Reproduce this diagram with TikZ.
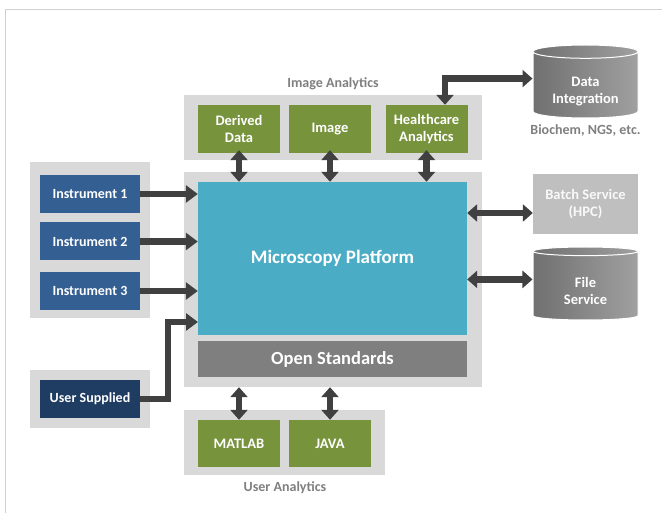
\documentclass[tikz,border=0pt]{standalone}
\usepackage{fontspec}
\setmainfont{Carlito}
\usetikzlibrary{arrows.meta,shapes.geometric}

\definecolor{panelgray}{HTML}{D9D9D9}
\definecolor{framegray}{HTML}{D0D0D0}
\definecolor{labelgray}{HTML}{7F7F7F}
\definecolor{leafgreen}{HTML}{77933C}
\definecolor{platblue}{HTML}{4BACC6}
\definecolor{instblue}{HTML}{335F93}
\definecolor{navyblue}{HTML}{1F3D63}
\definecolor{stdgray}{HTML}{7F7F7F}
\definecolor{batchgray}{HTML}{BFBFBF}
\definecolor{cylleft}{HTML}{707070}
\definecolor{cylright}{HTML}{A0A0A0}
\definecolor{arrowgray}{HTML}{404040}

\newcommand{\cyltext}[1]{\raisebox{-10pt}[0pt][0pt]{\begin{tabular}{@{}c@{}}#1\end{tabular}}}

\tikzset{
	panel/.style={fill=panelgray, inner sep=0pt},
	box/.style={inner sep=0pt, text=white, align=center,
		font=\fontsize{14.5}{17}\selectfont\bfseries},
	greenbox/.style={box, fill=leafgreen, minimum width=82pt, minimum height=48pt},
	instbox/.style={box, fill=instblue, minimum width=100pt, minimum height=38pt,
		font=\fontsize{14}{17}\selectfont\bfseries},
	caption/.style={text=labelgray, font=\fontsize{14}{17}\selectfont\bfseries},
	store/.style={box, cylinder, shape border rotate=90, aspect=0.2,
		minimum width=105pt, minimum height=73pt, draw=white, line width=1pt,
		left color=cylleft, right color=cylright, anchor=shape center},
	fatarrow/.style={draw=arrowgray, line width=6.5pt,
		-{Triangle[width=17pt,length=12pt]}},
	dblarrow/.style={draw=arrowgray, line width=6.5pt,
		{Triangle[width=17pt,length=10pt]}-{Triangle[width=17pt,length=10pt]}},
}

\begin{document}
\begin{tikzpicture}[x=1pt,y=-1pt]
	\useasboundingbox (0,0) rectangle (662,513);
	\draw[framegray] (662,9) -- (5,9) -- (5,513);

	% panels
	\node[panel, minimum width=298pt, minimum height=65pt] (imgpanel) at (333,127.5) {};
	\node[panel, minimum width=298pt, minimum height=215pt] (platpanel) at (333,279.5) {};
	\node[panel, minimum width=120pt, minimum height=156pt] (instpanel) at (90,240) {};
	\node[panel, minimum width=120pt, minimum height=58pt] (userpanel) at (90,399) {};
	\node[panel, minimum width=201pt, minimum height=65pt] (usrpanel) at (284.5,442.5) {};

	% image analytics
	\node[caption] (imglabel) at (333,84) {Image Analytics};
	\node[greenbox] (derived) at (239,129) {Derived\\Data};
	\node[greenbox] (image) at (330,129) {Image};
	\node[greenbox] (health) at (426.5,129) {Healthcare\\Analytics};

	% platform
	\node[box, fill=platblue, minimum width=269pt, minimum height=153pt,
		font=\fontsize{19}{22}\selectfont\bfseries] (platform) at (332.5,258.5) {Microscopy Platform};
	\node[box, fill=stdgray, minimum width=269pt, minimum height=36pt,
		font=\fontsize{18.5}{22}\selectfont\bfseries] (openstd) at (332.5,359) {Open Standards};

	% instruments
	\node[instbox] (inst1) at (90,194) {Instrument 1};
	\node[instbox] (inst2) at (90,241.5) {Instrument 2};
	\node[instbox] (inst3) at (90,291) {Instrument 3};
	\node[instbox, fill=navyblue] (user) at (90,399) {User Supplied};
	\coordinate (userin) at (198,322);

	% services
	\node[store] (dataint) at (585.5,81.5) {\cyltext{Data\\Integration}};
	\node[caption] (biochem) at (585.5,131) {Biochem, NGS, etc.};
	\node[box, fill=batchgray, text=white!95!gray, minimum width=105pt,
		minimum height=60pt] (batch) at (585.5,204) {Batch Service\\(HPC)};
	\node[store] (fileserv) at (585.5,283.5) {\cyltext{File\\Service}};

	% user analytics
	\node[greenbox, minimum height=47pt] (matlab) at (239,443.5) {MATLAB};
	\node[greenbox, minimum height=47pt] (java) at (330,443.5) {JAVA};
	\node[caption] (usrlabel) at (285,488) {User Analytics};

	% connectors
	\draw[fatarrow] (inst1) -- (inst1 -| platform.west);
	\draw[fatarrow] (inst2) -- (inst2 -| platform.west);
	\draw[fatarrow] (inst3) -- (inst3 -| platform.west);
	\draw[fatarrow] (user.east) -- ++(28,0) |- (userin);

	\draw[dblarrow] ([yshift=3pt]derived.south) -- (derived.south |- platform.north);
	\draw[dblarrow] ([yshift=3pt]image.south) -- (image.south |- platform.north);
	\draw[dblarrow] ([yshift=3pt]health.south) -- (health.south |- platform.north);
	\draw[dblarrow] ([xshift=18.5pt]health.north) |- ([yshift=6.5pt]dataint.west);

	\draw[dblarrow] (platform.east |- batch) ++(0,9) -- ([yshift=-9pt]batch.west);
	\draw[dblarrow] ([yshift=6.5pt]fileserv.west -| platform.east) -- ([yshift=6.5pt]fileserv.west);

	\draw[dblarrow] (platpanel.south -| matlab) -- (matlab.north);
	\draw[dblarrow] (platpanel.south -| java) -- (java.north);
\end{tikzpicture}
\end{document}
